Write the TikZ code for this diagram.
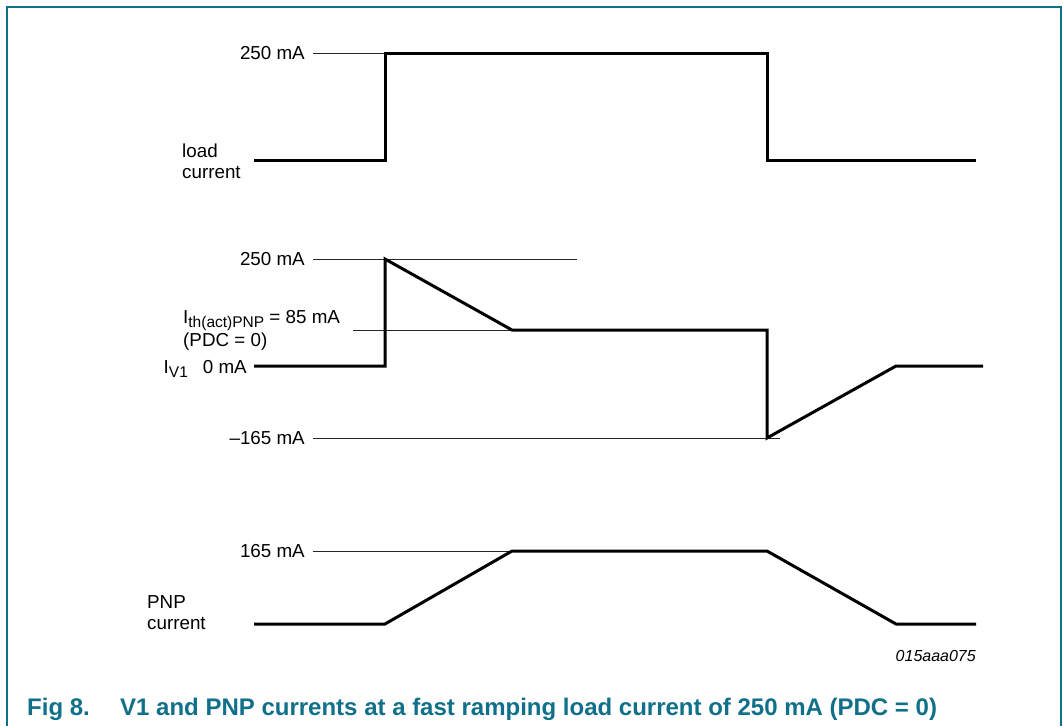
\documentclass[tikz,border=0pt]{standalone}
\usepackage{fontspec}
\setmainfont{Liberation Sans}
\definecolor{nxpteal}{RGB}{16,112,138}
\begin{document}
\begin{tikzpicture}[x=1pt,y=-1pt,
  wave/.style={line width=3pt, line join=miter, line cap=butt},
  refline/.style={line width=1pt, black!85},
  lbl/.style={font=\fontsize{18.8}{21}\selectfont, inner sep=0pt},
  frame/.style={nxpteal, line width=1.6pt},
  captxt/.style={font=\fontsize{24}{26}\selectfont\bfseries, text=nxpteal, inner sep=0pt},
  codetxt/.style={font=\fontsize{16}{18}\selectfont\itshape, inner sep=0pt}
]
\useasboundingbox (0,0) rectangle (1063,726);
% frame
\draw[frame] (7,726) -- (7,7) -- (1061,7) -- (1061,726);

% ---------- load current ----------
\coordinate (a0) at (254,160);
\coordinate (a1) at (385,160);
\coordinate (a2) at (385,53);
\coordinate (a3) at (767,53);
\coordinate (a4) at (767,160);
\coordinate (a5) at (976,160);
\node[lbl, anchor=east] (la250) at (305,53) {250 mA};
\node[lbl, anchor=base west] (lload1) at (182,157) {load};
\node[lbl, anchor=base west] (lload2) at (182,178) {current};
\draw[refline] ([xshift=8pt]la250.east) -- (a2);
\draw[wave] (a0) -- (a1) -- (a2) -- (a3) -- (a4) -- (a5);

% ---------- V1 current ----------
\coordinate (b0) at (254,366);
\coordinate (b1) at (385,366);
\coordinate (b2) at (385,259);
\coordinate (b3) at (512,330);
\coordinate (b4) at (767,330);
\coordinate (b5) at (767,438);
\coordinate (b6) at (896,366);
\coordinate (b7) at (983,366);
\coordinate (r250end) at (577,259);
\coordinate (thstart) at (353,330);
\coordinate (r165end) at (780,438);
\node[lbl, anchor=east] (lb250) at (305,259) {250 mA};
\node[lbl, anchor=base west] (lth) at (183,323.5)
  {I\raisebox{-4pt}{\fontsize{15.5}{16}\selectfont th(act)PNP} = 85 mA};
\node[lbl, anchor=base west] (lpdc) at (183,346) {(PDC = 0)};
\node[lbl, anchor=base east] (lv1) at (247,373)
  {I\raisebox{-4pt}{\fontsize{15.5}{16}\selectfont V1}\hspace{15pt}0 mA};
\node[lbl, anchor=east] (lbm165) at (305,438) {\textendash 165 mA};
\draw[refline] ([xshift=8pt]lb250.east) -- (r250end);
\draw[refline] (thstart) -- (b3);
\draw[refline] ([xshift=8pt]lbm165.east) -- (r165end);
\draw[wave] (b0) -- (b1) -- (b2) -- (b3) -- (b4) -- (b5) -- (b6) -- (b7);

% ---------- PNP current ----------
\coordinate (c0) at (254,624);
\coordinate (c1) at (385,624);
\coordinate (c2) at (512,551);
\coordinate (c3) at (767,551);
\coordinate (c4) at (896,624);
\coordinate (c5) at (976,624);
\node[lbl, anchor=east] (lc165) at (305,551) {165 mA};
\node[lbl, anchor=base west] (lpnp1) at (147,608) {PNP};
\node[lbl, anchor=base west] (lpnp2) at (147,629) {current};
\draw[refline] ([xshift=8pt]lc165.east) -- (c2);
\draw[wave] (c0) -- (c1) -- (c2) -- (c3) -- (c4) -- (c5);

% code and caption
\node[codetxt, anchor=base east] (code) at (976,661) {015aaa075};
\node[captxt, anchor=base west] (capfig) at (27,715) {Fig 8.};
\node[captxt, anchor=base west] (captext) at (120,715)
  {V1 and PNP currents at a fast ramping load current of 250 mA (PDC = 0)};
\end{tikzpicture}
\end{document}
